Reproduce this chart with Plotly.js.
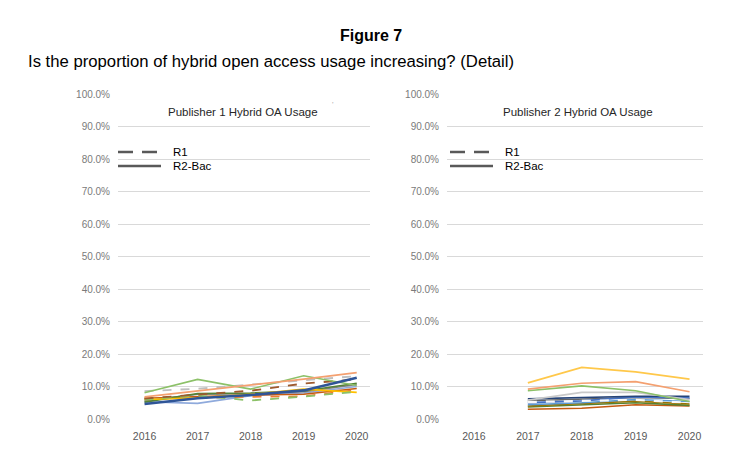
<!DOCTYPE html>
<html>
<head>
<meta charset="utf-8">
<script src="https://cdn.plot.ly/plotly-3.0.1.min.js"></script>
<style>
  body { margin: 0; background: #fff; }
  #myDiv { width: 742px; height: 475px; }
</style>
</head>
<body>
<div id="myDiv"></div>
<script>
//  ======== DATA (percent) ========
var years = ['2016', '2017', '2018', '2019', '2020'];

// Publisher 1 - dashed lines are R1, solid are R2-Bac
var p1Green      = [8.1, 12.2, 9.2, 13.3, 10.3];
var p1GrayDash   = [8.6, 9.3, 10.6, 11.9, 13.2];
var p1Orange     = [6.8, 8.6, 10.5, 12.3, 14.3];
var p1BrownDash  = [6.3, 7.5, 8.7, 10.9, 12.2];
var p1Blue       = [4.6, 6.4, 7.4, 8.8, 12.7];
var p1GreenDash  = [6.0, 7.2, 5.7, 6.9, 8.4];
var p1Gold       = [6.0, 6.5, 7.6, 9.2, 8.2];
var p1LightBlue  = [5.3, 4.8, 7.2, 8.0, 10.0];
var p1OrangeDash = [6.2, 6.6, 6.8, 7.0, 9.0];
var p1DarkOrange = [6.4, 7.0, 7.4, 7.6, 9.4];
var p1DarkGray   = [5.6, 7.6, 7.8, 8.4, 10.6];
var p1DarkGreen  = [5.2, 7.8, 8.0, 8.6, 11.0];

// Publisher 2 - no 2016 values
var p2Gold       = [null, 11.1, 15.9, 14.5, 12.3];
var p2Salmon     = [null, 9.2, 11.0, 11.5, 8.4];
var p2Green      = [null, 8.7, 10.2, 8.7, 5.4];
var p2Gray       = [null, 5.8, 8.2, 8.2, 6.0];
var p2WhiteDash  = [null, 5.2, 5.5, 5.9, 5.0];
var p2Navy       = [null, 6.2, 6.6, 7.0, 7.0];
var p2Blue       = [null, 5.0, 5.6, 6.8, 6.5];
var p2MidBlue    = [null, 4.4, 5.0, 6.0, 5.4];
var p2DarkGray   = [null, 5.6, 6.0, 6.6, 6.3];
var p2Olive      = [null, 4.0, 4.8, 5.5, 4.6];
var p2DarkGreen  = [null, 3.7, 4.4, 5.0, 4.2];
var p2DarkOrange = [null, 3.0, 3.3, 4.4, 4.0];

//  ======== TRACES ========
var plotData = [];

function addLine(vals, color, dash, width, axis) {
  plotData.push({
    x: years,
    y: vals,
    mode: 'lines',
    type: 'scatter',
    xaxis: axis == 2 ? 'x2' : 'x',
    yaxis: axis == 2 ? 'y2' : 'y',
    hoverinfo: 'skip',
    connectgaps: false,
    line: { color: color, width: width || 1.6, dash: dash || 'solid' }
  });
}

// left chart
addLine(p1LightBlue,  '#8faadc', null, 1.6, 1);
addLine(p1DarkOrange, '#c55a11', null, 1.6, 1);
addLine(p1OrangeDash, '#ed7d31', 'dash', 1.6, 1);
addLine(p1DarkGray,   '#7f7f7f', null, 1.6, 1);
addLine(p1DarkGreen,  '#548235', null, 1.6, 1);
addLine(p1Gold,       '#ffc000', null, 1.6, 1);
addLine(p1GreenDash,  '#8cc168', 'dash', 1.8, 1);
addLine(p1GrayDash,   '#bfbfbf', 'dash', 1.8, 1);
addLine(p1BrownDash,  '#9e5a2e', 'dash', 1.8, 1);
addLine(p1Green,      '#8cc168', null, 1.6, 1);
addLine(p1Orange,     '#f4a070', null, 1.8, 1);
addLine(p1Blue,       '#2f5597', null, 2.6, 1);

// right chart
addLine(p2DarkOrange, '#c55a11', null, 1.6, 2);
addLine(p2DarkGreen,  '#548235', null, 1.6, 2);
addLine(p2Olive,      '#997300', null, 1.6, 2);
addLine(p2MidBlue,    '#5b9bd5', null, 1.6, 2);
addLine(p2DarkGray,   '#636363', null, 1.6, 2);
addLine(p2Blue,       '#4472c4', null, 1.8, 2);
addLine(p2Navy,       '#264478', null, 1.6, 2);
addLine(p2Gray,       '#c9c9c9', null, 1.6, 2);
addLine(p2Green,      '#8cc168', null, 1.6, 2);
addLine(p2Salmon,     '#f4a070', null, 1.6, 2);
addLine(p2Gold,       '#ffc84a', null, 1.8, 2);
addLine(p2WhiteDash,  '#f8f8f8', 'dash', 2.2, 2);

//  ======== LAYOUT ========
var W = 742, H = 475;
function px(x) { return x / W; }
function py(y) { return 1 - y / H; }

var font = 'Liberation Sans, Arial, sans-serif';

function yAxis(anchor) {
  return {
    domain: [py(419), py(94)],
    anchor: anchor,
    range: [0, 100],
    dtick: 10,
    tickformat: '.1f',
    ticksuffix: '%',
    showgrid: true,
    gridcolor: '#d9d9d9',
    gridwidth: 1,
    zeroline: false,
    showline: false,
    ticks: '',
    ticklabelstandoff: 7,
    tickfont: { family: font, size: 10, color: '#7a7a7a' },
    fixedrange: true
  };
}

function xAxis(anchor, l, r) {
  return {
    domain: [px(l), px(r)],
    anchor: anchor,
    type: 'category',
    range: [-0.5, 4.25],
    showgrid: false,
    zeroline: false,
    showline: false,
    ticks: '',
    ticklabelstandoff: 9,
    tickfont: { family: font, size: 10.5, color: '#595959' },
    fixedrange: true
  };
}

function note(text, x, y, size, opts) {
  var a = {
    text: text, x: x, y: y, xref: 'paper', yref: 'paper',
    showarrow: false, xanchor: 'center', yanchor: 'middle',
    font: { family: font, size: size, color: '#000' }
  };
  return Object.assign(a, opts || {});
}

var legendColor = '#595959';
function legLine(x0, x1, y, dash) {
  return {
    type: 'line', xref: 'paper', yref: 'paper',
    x0: px(x0), x1: px(x1), y0: py(y), y1: py(y),
    line: { color: legendColor, width: 2.5, dash: dash }
  };
}

var titleFont = { family: font, size: 11.5, color: '#262626' };

var layout = {
  width: W,
  height: H,
  margin: { l: 0, r: 0, t: 0, b: 0, pad: 0 },
  paper_bgcolor: '#fff',
  plot_bgcolor: '#fff',
  showlegend: false,
  xaxis: xAxis('y', 118, 370),
  yaxis: yAxis('x'),
  xaxis2: xAxis('y2', 447, 703),
  yaxis2: yAxis('x2'),
  annotations: [
    note('<b>Figure 7</b>', 0.5, py(36), 16),
    note('Is the proportion of hybrid open access usage increasing? (Detail)', px(26), py(61), 16.7, { xanchor: 'left' }),
    note('Publisher 1 Hybrid OA Usage', px(243), py(112), 11.5, { font: titleFont }),
    note('Publisher 2 Hybrid OA Usage', px(578), py(112), 11.5, { font: titleFont }),
    note('R1', px(171), py(152), 11.5, { xanchor: 'left' }),
    note('R2-Bac', px(171), py(166), 11.5, { xanchor: 'left' }),
    note('R1', px(503), py(152), 11.5, { xanchor: 'left' }),
    note('R2-Bac', px(503), py(166), 11.5, { xanchor: 'left' }),
    note("'", px(333), py(104), 8, { font: { family: font, size: 8, color: '#aaa' } })
  ],
  shapes: [
    legLine(118, 161, 152, '15px,9px'),
    legLine(118, 161, 166, 'solid'),
    legLine(450, 493, 152, '15px,9px'),
    legLine(450, 493, 166, 'solid')
  ]
};

var config = { displayModeBar: false, staticPlot: true };

Plotly.newPlot('myDiv', plotData, layout, config);
</script>
</body>
</html>
